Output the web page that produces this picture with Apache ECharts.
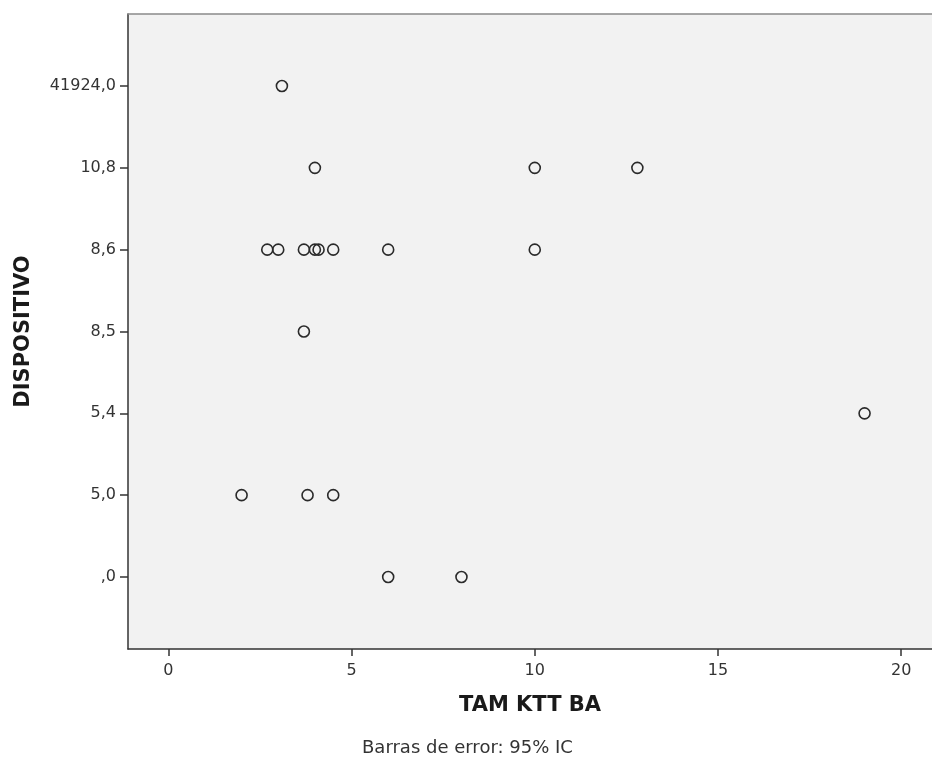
<!DOCTYPE html>
<html>
<head>
<meta charset="utf-8">
<script src="https://cdn.jsdelivr.net/npm/echarts@6/dist/echarts.min.js"></script>
<style>
html,body{margin:0;padding:0;background:#fff;overflow:hidden;}
#chart{width:932px;height:760px;}
</style>
</head>
<body>
<div id="chart"></div>
<script>
// Category labels of DISPOSITIVO (bottom to top)
const categories = [',0', '5,0', '5,4', '8,5', '8,6', '10,8', '41924,0'];
// X tick labels
const xTicks = [0, 5, 10, 15, 20];
// Points: TAM KTT BA value and the DISPOSITIVO category it belongs to
const tamKttBa    = [3.1, 4.0, 10.0, 12.8, 2.7, 3.0, 3.7, 4.0, 4.1, 4.5, 6.0, 10.0, 3.7, 19.0, 2.0, 3.8, 4.5, 6.0, 8.0];
const dispositivo = ['41924,0', '10,8', '10,8', '10,8', '8,6', '8,6', '8,6', '8,6', '8,6', '8,6', '8,6', '8,6', '8,5', '5,4', '5,0', '5,0', '5,0', ',0', ',0'];

const points = tamKttBa.map((v, i) => [v, categories.indexOf(dispositivo[i])]);
const catIdx = categories.map((c, i) => i);

const chart = echarts.init(document.getElementById('chart'), null, {renderer: 'canvas'});
const FONT = 'DejaVu Sans';
chart.setOption({
  animation: false,
  backgroundColor: '#ffffff',
  grid: {
    left: 128, top: 14, height: 635, right: 0,
    show: true, backgroundColor: '#f2f2f2', borderWidth: 0
  },
  xAxis: [{
    type: 'value', min: -1.1, max: 20.84,
    name: 'TAM KTT BA', nameLocation: 'middle', nameGap: 46,
    nameTextStyle: {fontFamily: FONT, fontSize: 21, fontWeight: 'bold', color: '#1a1a1a'},
    axisLine: {show: true, onZero: false, lineStyle: {color: '#333', width: 1.5}},
    axisTick: {show: true, length: 7, customValues: xTicks, lineStyle: {color: '#333', width: 1.5}},
    axisLabel: {customValues: xTicks, margin: 14, fontFamily: FONT, fontSize: 16, color: '#333'},
    splitLine: {show: false}
  }, {
    type: 'value', position: 'top', min: -1.1, max: 20.84,
    axisLine: {show: true, onZero: false, lineStyle: {color: '#8a8a8a', width: 1.5}},
    axisTick: {show: false}, axisLabel: {show: false}, splitLine: {show: false}
  }],
  yAxis: {
    type: 'value', min: -0.88, max: 6.88,
    name: 'DISPOSITIVO', nameLocation: 'middle', nameGap: 94, nameRotate: 90,
    nameTextStyle: {fontFamily: FONT, fontSize: 21, fontWeight: 'bold', color: '#1a1a1a'},
    axisLine: {show: true, onZero: false, lineStyle: {color: '#333', width: 1.5}},
    axisTick: {show: true, length: 8, customValues: catIdx, lineStyle: {color: '#333', width: 1.5}},
    axisLabel: {
      customValues: catIdx, margin: 12, fontFamily: FONT, fontSize: 16, color: '#333',
      formatter: v => categories[Math.round(v)]
    },
    splitLine: {show: false}
  },
  series: [{
    type: 'scatter',
    xAxisIndex: 0,
    data: points,
    symbol: 'circle',
    symbolSize: 11,
    itemStyle: {color: 'rgba(0,0,0,0)', borderColor: '#2a2a2a', borderWidth: 1.6, opacity: 1}
  }],
  graphic: [{
    type: 'text', left: 362, top: 739,
    style: {text: 'Barras de error: 95% IC', font: '18px "DejaVu Sans"', fill: '#333'}
  }]
});
</script>
</body>
</html>
